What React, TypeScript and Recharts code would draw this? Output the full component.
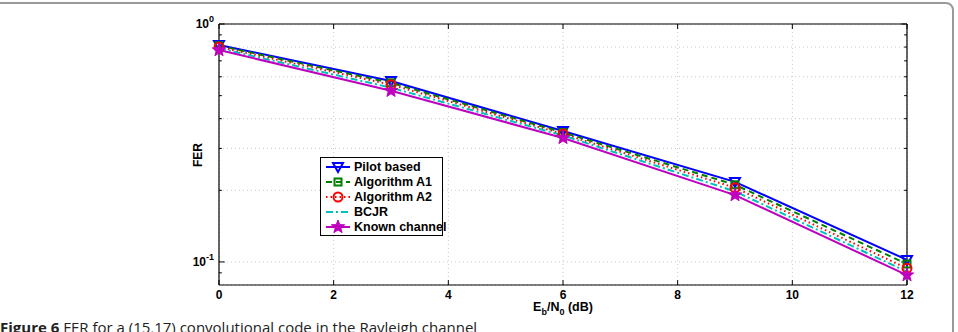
import React from 'react';
import { ComposedChart, Line, XAxis, YAxis, CartesianGrid, ReferenceLine } from 'recharts';

const snrDb = [0, 3, 6, 9, 12];
const pilotBased = [0.816, 0.576, 0.355, 0.217, 0.102];
const algorithmA1 = [0.81, 0.566, 0.35, 0.211, 0.098];
const algorithmA2 = [0.8, 0.556, 0.345, 0.205, 0.094];
const bcjr = [0.79, 0.54, 0.34, 0.198, 0.091];
const knownChannel = [0.777, 0.524, 0.332, 0.191, 0.088];

const xTicks = [0, 2, 4, 6, 8, 10, 12];
const yTicks = [0.09, 0.1, 0.2, 0.3, 0.4, 0.5, 0.6, 0.7, 0.8, 0.9, 1];
const yDecades = [0.1, 1];

const data = snrDb.map((x, i) => ({
  x,
  pilot: pilotBased[i],
  a1: algorithmA1[i],
  a2: algorithmA2[i],
  bcjr: bcjr[i],
  known: knownChannel[i],
}));

const FONT = '"Liberation Sans", Arial, Helvetica, sans-serif';

const starPoints = (cx: number, cy: number, r: number) => {
  const pts: string[] = [];
  for (let i = 0; i < 10; i++) {
    const rad = i % 2 === 0 ? r : r * 0.42;
    const a = -Math.PI / 2 + (i * Math.PI) / 5;
    pts.push(`${cx + rad * Math.cos(a)},${cy + rad * Math.sin(a)}`);
  }
  return pts.join(' ');
};

const Marker = ({ kind, cx, cy, color }: { kind: string; cx: number; cy: number; color: string }) => {
  if (kind === 'tri')
    return <polygon points={`${cx - 5},${cy - 4} ${cx + 5},${cy - 4} ${cx},${cy + 5}`} fill="none" stroke={color} strokeWidth={2} />;
  if (kind === 'square')
    return <rect x={cx - 3.5} y={cy - 3.5} width={7} height={7} fill="none" stroke={color} strokeWidth={2} />;
  if (kind === 'circle') return <circle cx={cx} cy={cy} r={4.5} fill="none" stroke={color} strokeWidth={2} />;
  if (kind === 'star') return <polygon points={starPoints(cx, cy, 7)} fill={color} stroke={color} strokeWidth={1} />;
  return null;
};

const series = [
  { key: 'pilot', name: 'Pilot based', color: '#0000ff', dash: undefined, marker: 'tri' },
  { key: 'a1', name: 'Algorithm A1', color: '#007f00', dash: '6 4', marker: 'square' },
  { key: 'a2', name: 'Algorithm A2', color: '#ff0000', dash: '1.5 3', marker: 'circle' },
  { key: 'bcjr', name: 'BCJR', color: '#00bfbf', dash: '7 3 2 3', marker: '' },
  { key: 'known', name: 'Known channel', color: '#bf00bf', dash: undefined, marker: 'star' },
];

const YTick = (props: any) => {
  const { x, y, payload } = props;
  const v = payload.value;
  if (!yDecades.some((d) => Math.abs(d - v) < 1e-9)) return null;
  const exp = Math.round(Math.log10(v));
  return (
    <text x={x} y={y} textAnchor="end" fontFamily={FONT} fontWeight="bold" fontSize={12} fill="#000" dy={4}>
      10
      <tspan dy={-6} fontSize={9}>{exp}</tspan>
    </text>
  );
};

const XTick = (props: any) => {
  const { x, y, payload } = props;
  return (
    <text x={x} y={y} textAnchor="middle" fontFamily={FONT} fontWeight="bold" fontSize={12} fill="#000" dy={8}>
      {payload.value}
    </text>
  );
};

const LegendBox = () => (
  <div
    style={{
      position: 'absolute',
      left: 320,
      top: 157,
      width: 121,
      height: 76,
      border: '1px solid #000',
      background: '#fff',
      fontFamily: FONT,
      fontWeight: 'bold',
      fontSize: 12.5,
      padding: '1px 0 0 0',
      boxSizing: 'content-box',
    }}
  >
    {series.map((s) => (
      <div key={s.key} style={{ display: 'flex', alignItems: 'center', height: 15.2 }}>
        <svg width={32} height={14} style={{ flexShrink: 0 }}>
          <line x1={5} y1={7} x2={29} y2={7} stroke={s.color} strokeWidth={2} strokeDasharray={s.dash} />
          <Marker kind={s.marker} cx={17} cy={7} color={s.color} />
        </svg>
        <span style={{ whiteSpace: 'nowrap', marginLeft: 1 }}>{s.name}</span>
      </div>
    ))}
  </div>
);

export default function App() {
  return (
    <div style={{ position: 'fixed', left: 0, top: 0, width: 958, height: 332, overflow: 'hidden', background: '#fff' }}>
      <div
        style={{
          position: 'absolute',
          left: -20,
          top: 2,
          width: 970,
          height: 420,
          border: '2px solid #999',
          borderRadius: 8,
        }}
      />
      <ComposedChart
        width={958}
        height={332}
        data={data}
        margin={{ top: 24, right: 51, bottom: 17, left: 159 }}
        style={{ position: 'absolute', left: 0, top: 0 }}
      >
        <CartesianGrid stroke="#c8c8c8" strokeDasharray="1 3" />
        <XAxis
          dataKey="x"
          type="number"
          domain={[0, 12]}
          ticks={xTicks}
          height={30}
          axisLine={{ stroke: '#000', strokeWidth: 1.2 }}
          tickLine={false}
          tickSize={4}
          tickMargin={2}
          tick={<XTick />}
        />
        <YAxis
          type="number"
          scale="log"
          domain={[0.08, 1]}
          ticks={yTicks}
          width={60}
          allowDataOverflow
          axisLine={{ stroke: '#000', strokeWidth: 1.2 }}
          tickLine={false}
          tickSize={3}
          tickMargin={2}
          tick={<YTick />}
        />
        <ReferenceLine y={1} stroke="#000" strokeWidth={1.2} />
        <ReferenceLine x={12} stroke="#000" strokeWidth={1.2} />
        {xTicks.map((t) => (
          <ReferenceLine key={`xb${t}`} segment={[{ x: t, y: 0.08 }, { x: t, y: 0.0839 }]} stroke="#000" />
        ))}
        {xTicks.map((t) => (
          <ReferenceLine key={`xt${t}`} segment={[{ x: t, y: 1 }, { x: t, y: 0.953 }]} stroke="#000" />
        ))}
        {yTicks.map((t) => (
          <ReferenceLine
            key={`yl${t}`}
            segment={[{ x: 0, y: t }, { x: yDecades.includes(t) ? 0.1 : 0.05, y: t }]}
            stroke="#000"
          />
        ))}
        {yTicks.map((t) => (
          <ReferenceLine
            key={`yr${t}`}
            segment={[{ x: 12, y: t }, { x: yDecades.includes(t) ? 11.9 : 11.95, y: t }]}
            stroke="#000"
          />
        ))}
        {series.map((s) => (
          <Line
            key={s.key}
            dataKey={s.key}
            name={s.name}
            type="linear"
            stroke={s.color}
            strokeWidth={2}
            strokeDasharray={s.dash}
            isAnimationActive={false}
            dot={(p: any) => <Marker key={`${s.key}-${p.index}`} kind={s.marker} cx={p.cx} cy={p.cy} color={s.color} />}
          />
        ))}
      </ComposedChart>
      <LegendBox />
      <div
        style={{
          position: 'absolute',
          left: 198,
          top: 155,
          transform: 'translate(-50%, -50%) rotate(-90deg)',
          fontFamily: FONT,
          fontWeight: 'bold',
          fontSize: 12,
        }}
      >
        FER
      </div>
      <div
        style={{
          position: 'absolute',
          left: 563,
          top: 300,
          transform: 'translateX(-50%)',
          fontFamily: FONT,
          fontWeight: 'bold',
          fontSize: 12.5,
          whiteSpace: 'nowrap',
        }}
      >
        E<sub style={{ fontSize: 9 }}>b</sub>/N<sub style={{ fontSize: 9 }}>0</sub> (dB)
      </div>
      <div
        style={{
          position: 'absolute',
          left: 0,
          top: 317,
          fontFamily: '"Open Sans", "Noto Sans", sans-serif',
          fontSize: 15,
          whiteSpace: 'nowrap',
          color: '#222',
        }}
      >
        <b>Figure 6</b> FER for a (15,17) convolutional code in the Rayleigh channel
      </div>
    </div>
  );
}
